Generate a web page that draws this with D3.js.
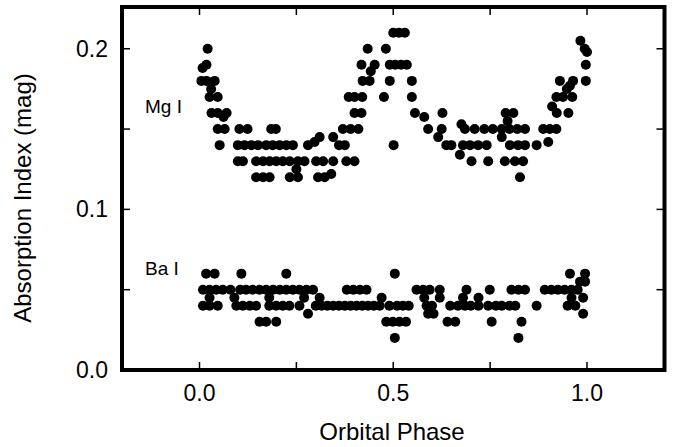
<!DOCTYPE html>
<html>
<head>
<meta charset="utf-8">
<script src="https://cdn.jsdelivr.net/npm/d3@7"></script>
<style>
  body { margin: 0; background: #fff; }
  text { font-family: "Liberation Sans", Arial, Helvetica, sans-serif; fill: #000; }
</style>
</head>
<body>
<script>
// Mg I absorption index vs orbital phase [phase, mag]
const mgI = [
  [0.50, 0.21], [0.515, 0.21], [0.53, 0.21],
  [0.983, 0.205],
  [0.021, 0.20], [0.434, 0.20], [0.481, 0.20], [0.994, 0.20], [1.0, 0.198],
  [0.018, 0.19], [0.418, 0.19], [0.452, 0.19], [0.491, 0.19], [0.505, 0.19], [0.52, 0.19], [0.535, 0.19], [0.997, 0.19],
  [0.008, 0.188], [0.442, 0.186],
  [0.005, 0.18], [0.018, 0.18], [0.039, 0.18], [0.421, 0.18], [0.439, 0.18], [0.491, 0.18], [0.548, 0.18], [0.93, 0.18], [0.964, 0.18], [0.997, 0.18],
  [0.956, 0.177], [0.03, 0.175], [0.948, 0.175],
  [0.026, 0.17], [0.047, 0.17], [0.385, 0.17], [0.40, 0.17], [0.42, 0.17], [0.476, 0.17], [0.548, 0.17], [0.921, 0.17], [0.938, 0.17], [0.962, 0.17],
  [0.91, 0.164],
  [0.031, 0.16], [0.047, 0.16], [0.07, 0.16], [0.40, 0.16], [0.418, 0.16], [0.556, 0.16], [0.627, 0.16], [0.79, 0.16], [0.81, 0.16], [0.922, 0.16], [0.952, 0.16],
  [0.062, 0.1575], [0.58, 0.1575], [0.795, 0.155], [0.676, 0.153],
  [0.047, 0.15], [0.065, 0.15], [0.103, 0.15], [0.124, 0.15], [0.185, 0.15], [0.197, 0.15], [0.37, 0.15], [0.39, 0.15], [0.41, 0.15],
  [0.59, 0.15], [0.625, 0.15], [0.685, 0.15], [0.71, 0.15], [0.735, 0.15], [0.757, 0.15], [0.78, 0.15], [0.80, 0.15], [0.82, 0.15], [0.84, 0.15],
  [0.887, 0.15], [0.904, 0.15], [0.921, 0.15],
  [0.345, 0.145], [0.31, 0.145], [0.616, 0.145], [0.78, 0.145], [0.297, 0.142], [0.9, 0.142],
  [0.052, 0.14], [0.099, 0.14], [0.116, 0.14], [0.134, 0.14], [0.151, 0.14], [0.172, 0.14], [0.189, 0.14], [0.207, 0.14], [0.224, 0.14], [0.241, 0.14],
  [0.28, 0.14], [0.36, 0.14], [0.375, 0.14], [0.501, 0.14], [0.637, 0.14], [0.65, 0.14], [0.68, 0.14], [0.698, 0.14], [0.719, 0.14], [0.741, 0.14],
  [0.801, 0.14], [0.822, 0.14], [0.84, 0.14], [0.87, 0.14],
  [0.672, 0.134],
  [0.099, 0.13], [0.112, 0.13], [0.146, 0.13], [0.164, 0.13], [0.181, 0.13], [0.198, 0.13], [0.215, 0.13], [0.233, 0.13], [0.254, 0.13], [0.271, 0.13],
  [0.301, 0.13], [0.319, 0.13], [0.345, 0.13], [0.379, 0.13], [0.40, 0.13], [0.702, 0.13], [0.745, 0.13], [0.788, 0.13], [0.814, 0.13], [0.835, 0.13],
  [0.25, 0.125],
  [0.146, 0.12], [0.164, 0.12], [0.181, 0.12], [0.233, 0.12], [0.254, 0.12], [0.306, 0.12], [0.323, 0.12], [0.34, 0.122], [0.827, 0.12]
];

// Ba I absorption index vs orbital phase [phase, mag]
const baI = [
  [0.017, 0.06], [0.039, 0.06], [0.108, 0.06], [0.224, 0.06], [0.504, 0.06], [0.956, 0.06], [0.995, 0.06],
  [0.995, 0.055], [0.982, 0.055],
  [0.009, 0.05], [0.026, 0.05], [0.043, 0.05], [0.06, 0.05], [0.08, 0.05], [0.105, 0.05], [0.12, 0.05], [0.137, 0.05], [0.155, 0.05], [0.172, 0.05],
  [0.19, 0.05], [0.207, 0.05], [0.224, 0.05], [0.241, 0.05], [0.258, 0.05], [0.276, 0.05], [0.293, 0.05], [0.38, 0.05], [0.397, 0.05], [0.414, 0.05],
  [0.431, 0.05], [0.56, 0.05], [0.577, 0.05], [0.594, 0.05], [0.62, 0.05], [0.689, 0.05], [0.749, 0.05], [0.805, 0.05], [0.823, 0.05], [0.84, 0.05],
  [0.891, 0.05], [0.908, 0.05], [0.925, 0.05], [0.942, 0.05], [0.96, 0.05], [0.976, 0.05],
  [0.026, 0.045], [0.09, 0.045], [0.18, 0.045], [0.27, 0.045], [0.31, 0.045], [0.47, 0.045], [0.58, 0.045], [0.62, 0.045], [0.68, 0.045],
  [0.72, 0.045], [0.96, 0.045], [0.99, 0.045],
  [0.009, 0.04], [0.026, 0.04], [0.047, 0.04], [0.095, 0.04], [0.112, 0.04], [0.13, 0.04], [0.146, 0.04], [0.18, 0.04], [0.198, 0.04], [0.215, 0.04],
  [0.232, 0.04], [0.258, 0.04], [0.30, 0.04], [0.315, 0.04], [0.33, 0.04], [0.345, 0.04], [0.36, 0.04], [0.375, 0.04], [0.39, 0.04], [0.405, 0.04],
  [0.42, 0.04], [0.435, 0.04], [0.45, 0.04], [0.465, 0.04], [0.49, 0.04], [0.51, 0.04], [0.525, 0.04], [0.54, 0.04], [0.586, 0.04], [0.60, 0.04],
  [0.647, 0.04], [0.667, 0.04], [0.685, 0.04], [0.70, 0.04], [0.72, 0.04], [0.745, 0.04], [0.765, 0.04], [0.78, 0.04], [0.80, 0.04], [0.815, 0.04],
  [0.87, 0.04], [0.95, 0.04], [0.97, 0.04],
  [0.28, 0.035], [0.59, 0.035], [0.604, 0.035], [0.99, 0.035],
  [0.155, 0.03], [0.172, 0.03], [0.198, 0.03], [0.482, 0.03], [0.499, 0.03], [0.516, 0.03], [0.533, 0.03], [0.64, 0.03], [0.66, 0.03],
  [0.754, 0.03], [0.831, 0.03],
  [0.504, 0.02], [0.823, 0.02]
];

const xDomain = [-0.2, 1.2];
const yDomain = [0, 0.226];
const xTicks = [0, 0.25, 0.5, 0.75, 1.0];
const xTickLabels = [0, 0.5, 1.0];
const yTicks = [0, 0.05, 0.1, 0.15, 0.2];
const yTickLabels = [0, 0.1, 0.2];
const seriesLabels = [
  { name: "Mg I", x: 145, y: 113 },
  { name: "Ba I", x: 145, y: 275 }
];

const W = 678, H = 447;
const plotLeft = 122, plotRight = 664.5, plotTop = 7, plotBottom = 370;

const svg = d3.select("body").append("svg")
  .attr("width", W)
  .attr("height", H);

const x = d3.scaleLinear().domain(xDomain).range([plotLeft, plotRight]);
const y = d3.scaleLinear().domain(yDomain).range([plotBottom, plotTop]);

const tickLen = 8;

// inward ticks on all four sides
const g = svg.append("g").attr("stroke", "#000").attr("stroke-width", 1.5);
xTicks.forEach(t => {
  g.append("line").attr("x1", x(t)).attr("x2", x(t)).attr("y1", plotBottom).attr("y2", plotBottom - tickLen);
  g.append("line").attr("x1", x(t)).attr("x2", x(t)).attr("y1", plotTop).attr("y2", plotTop + tickLen);
});
yTicks.forEach(t => {
  g.append("line").attr("x1", plotLeft).attr("x2", plotLeft + tickLen).attr("y1", y(t)).attr("y2", y(t));
  g.append("line").attr("x1", plotRight).attr("x2", plotRight - tickLen).attr("y1", y(t)).attr("y2", y(t));
});

// tick labels
svg.selectAll(".xlab")
  .data(xTickLabels)
  .join("text")
  .attr("class", "xlab")
  .attr("x", d => x(d))
  .attr("y", 401)
  .attr("text-anchor", "middle")
  .style("font-size", "23px")
  .text(d => d3.format(".1f")(d));

svg.selectAll(".ylab")
  .data(yTickLabels)
  .join("text")
  .attr("class", "ylab")
  .attr("x", 108)
  .attr("y", d => y(d) + 8)
  .attr("text-anchor", "end")
  .style("font-size", "23px")
  .text(d => d3.format(".1f")(d));

// axis titles
svg.append("text")
  .attr("x", 392)
  .attr("y", 440)
  .attr("text-anchor", "middle")
  .style("font-size", "24px")
  .text("Orbital Phase");

svg.append("text")
  .attr("transform", "translate(31,198) rotate(-90)")
  .attr("text-anchor", "middle")
  .style("font-size", "24px")
  .text("Absorption Index (mag)");

// points
const pts = svg.append("g");
pts.selectAll(".mg")
  .data(mgI)
  .join("circle")
  .attr("class", "mg")
  .attr("cx", d => x(d[0]))
  .attr("cy", d => y(d[1]))
  .attr("r", 5)
  .attr("fill", "#000");

pts.selectAll(".ba")
  .data(baI)
  .join("circle")
  .attr("class", "ba")
  .attr("cx", d => x(d[0]))
  .attr("cy", d => y(d[1]))
  .attr("r", 5)
  .attr("fill", "#000");

svg.selectAll(".series")
  .data(seriesLabels)
  .join("text")
  .attr("class", "series")
  .attr("x", d => d.x)
  .attr("y", d => d.y)
  .style("font-size", "19px")
  .text(d => d.name);

// frame
svg.append("rect")
  .attr("x", plotLeft)
  .attr("y", plotTop)
  .attr("width", plotRight - plotLeft)
  .attr("height", plotBottom - plotTop)
  .attr("fill", "none")
  .attr("stroke", "#000")
  .attr("stroke-width", 4);
</script>
</body>
</html>
